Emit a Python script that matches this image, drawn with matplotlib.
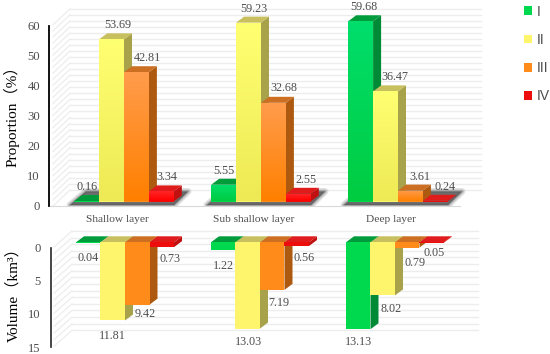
import numpy as np
import matplotlib
matplotlib.use('Agg')
import matplotlib.pyplot as plt
from matplotlib.colors import to_rgb
from matplotlib.patches import Patch, Polygon

plt.rcParams['font.family'] = ['Liberation Serif', 'Noto Sans CJK SC']

# data
layers = ['Shallow layer', 'Sub shallow layer', 'Deep layer']
classes = ['I', 'II', 'III', 'IV']
proportion = [[0.16, 5.55, 59.68],
              [53.69, 59.23, 36.47],
              [42.81, 32.68, 3.61],
              [3.34, 2.55, 0.24]]
volume = [[0.04, 1.22, 13.13],
          [11.81, 13.03, 8.02],
          [9.42, 7.19, 0.79],
          [0.73, 0.56, 0.05]]

# label shifts in pixels (right, away from the bar end), per class and layer
top_dx = [[0, 0, 3], [6, 5, 9], [11, 10, 9.5], [6, 8, 9.5]]
top_dy = [[14, 14, 14], [14, 14, 14], [14, 15, 14], [14, 14, 14]]
low_dx = [[0, 0, 0], [0, 1, 8], [8, 7, 8], [8, 7, 2.5]]
low_dy = [[15.5, 15.7, 13], [15.7, 13.7, 14], [9, 13.5, 15.7], [12, 11.7, 10.4]]

front_top = ['#00de6c', '#ffff72', '#ff9c4c', '#ff2a2a']
front_low = ['#00cc40', '#eeea55', '#ff8000', '#ff0000']
front_flat = ['#00d84e', '#fff56c', '#ff8c1a', '#ee0d0d']
lid = ['#009c3c', '#c8bf5e', '#cc6f22', '#e01b1b']
side = ['#008a35', '#a8a24a', '#ad5a10', '#c01010']

W, H = 550, 354
GREY = '#4d4d4d'
fig = plt.figure(figsize=(W / 100, H / 100), dpi=100)


def axes_px(left, top, right, bottom):
    return fig.add_axes([left / W, 1 - bottom / H, (right - left) / W, (bottom - top) / H])


def draw_bars(ax, values, dx_px, w_px, y_scale, sign, gradient):
    # x data is group number, so convert the fake 3D depth from pixels
    depth_x = 8 / dx_px
    depth_y = sign * 6 / y_scale
    w = w_px / dx_px
    for i, vals in enumerate(values):
        for g, v in enumerate(vals):
            x = g + (i - 1.5) * w
            xl, xr = x - w / 2, x + w / 2
            ax.add_patch(Polygon([(xr, 0), (xr + depth_x, depth_y), (xr + depth_x, v + depth_y), (xr, v)],
                                 fc=side[i], ec='none', zorder=5))
            top = [(xl, v), (xr, v), (xr + depth_x, v + depth_y), (xl + depth_x, v + depth_y)]
            if sign < 0:
                top = [(xl, 0), (xr, 0), (xr + depth_x, depth_y), (xl + depth_x, depth_y)]
            ax.add_patch(Polygon(top, fc=lid[i], ec='none', zorder=6))
            bar = ax.bar(x, v, w, color=front_flat[i], zorder=7)[0]
            if gradient:
                ramp = np.linspace(to_rgb(front_top[i]), to_rgb(front_low[i]), 64)[:, None, :]
                im = ax.imshow(ramp, extent=(xl, xr, 0, v), aspect='auto', zorder=7.5,
                               interpolation='bilinear')
                im.set_clip_path(bar)


# upper panel
BASE1, SCALE1, DX1, WB1 = 201.5, 3.02, 137, 24.9
ax1 = axes_px(0, 0, W, 206)
xlim1 = (-124 / DX1, (W - 124) / DX1)
ylim1 = ((BASE1 - 206) / SCALE1, BASE1 / SCALE1)

wall1 = 11.5 / SCALE1
for v in range(0, 61, 2):
    ax1.plot([(70 - 124) / DX1, (481 - 124) / DX1], [v + wall1, v + wall1], color='#ededed', lw=1, zorder=1)
    ax1.plot([(53 - 124) / DX1, (70 - 124) / DX1], [v + wall1 - 16 / SCALE1, v + wall1], color='#ededed', lw=0.9, zorder=1)

# soft shadow under each group
for g in range(3):
    xl = g - 50 / DX1
    xr = g + 50 / DX1
    pts = [(xl - 4 / DX1, -3.5 / SCALE1), (xr, -3.5 / SCALE1),
           (xr + 14 / DX1, 10 / SCALE1), (xl + 12 / DX1, 10 / SCALE1)]
    for lw, a in zip((5, 3, 1.5, 0), (0.16, 0.2, 0.3, 0.6)):
        ax1.add_patch(Polygon(pts, fc='#555555', ec='#555555', lw=lw, alpha=a, zorder=3, joinstyle='round'))

draw_bars(ax1, proportion, DX1, WB1, SCALE1, 1, True)
for i, vals in enumerate(proportion):
    for g, v in enumerate(vals):
        ax1.annotate(f'{v:.2f}', (g + (i - 1.5) * WB1 / DX1, v), xytext=(top_dx[i][g] * 0.72, top_dy[i][g] * 0.72),
                     textcoords='offset points', ha='center', va='center', fontsize=8.7, color=GREY, zorder=20)
ax1.set_xlim(xlim1)
ax1.set_ylim(ylim1)
ax1.patch.set_visible(False)
for s in ('top', 'left', 'right'):
    ax1.spines[s].set_visible(False)
ax1.spines['bottom'].set_color('#d9d9d9')
ax1.spines['bottom'].set_bounds((50 - 124) / DX1, (460 - 124) / DX1)
ax1.set_xticks(np.arange(3) - 7 / DX1)
ax1.set_xticklabels(layers, fontsize=8.2, color=GREY)
ax1.tick_params(axis='x', length=0, pad=6.5)
ax1.set_yticks([])

axis1 = axes_px(49, 26, 449, 206)
axis1.set_ylim(0, 60)
axis1.set_yticks(range(0, 61, 10))
axis1.tick_params(axis='y', length=0, pad=6.5, labelsize=9.1, labelcolor=GREY)
axis1.set_xticks([])
axis1.patch.set_visible(False)
for s in ('top', 'right', 'bottom'):
    axis1.spines[s].set_visible(False)
axis1.spines['left'].set_color('black')
axis1.spines['left'].set_linewidth(1.3)
axis1.set_ylabel('Proportion（%）', fontsize=11, color='black')
axis1.yaxis.set_label_coords(-29 / 400, 0.517)

# lower panel, hanging bars
BASE2, SCALE2, DX2, WB2 = 242.3, 6.62, 135, 24.5
ax2 = axes_px(0, 210, W, H)
xlim2 = (-125 / DX2, (W - 125) / DX2)
ylim2 = ((H - BASE2) / SCALE2, (210 - BASE2) / SCALE2)

wall2 = 11.3 / SCALE2
for v in range(0, 16):
    ax2.plot([(72 - 125) / DX2, (478 - 125) / DX2], [v - wall2, v - wall2], color='#ededed', lw=1, zorder=1)
    ax2.plot([(54 - 125) / DX2, (72 - 125) / DX2], [v - wall2 + 16 / SCALE2, v - wall2], color='#ededed', lw=0.9, zorder=1)

draw_bars(ax2, volume, DX2, WB2, SCALE2, -1, False)
for i, vals in enumerate(volume):
    for g, v in enumerate(vals):
        ax2.annotate(f'{v:.2f}', (g + (i - 1.5) * WB2 / DX2, v), xytext=(low_dx[i][g] * 0.72, -low_dy[i][g] * 0.72),
                     textcoords='offset points', ha='center', va='center', fontsize=8.7, color=GREY, zorder=20)
ax2.set_xlim(xlim2)
ax2.set_ylim(ylim2)
ax2.axis('off')

axis2 = axes_px(51, 247.5, 451, 347)
axis2.set_ylim(15, 0)
axis2.set_yticks([0, 5, 10, 15])
axis2.tick_params(axis='y', length=0, pad=7.5, labelsize=9.1, labelcolor=GREY)
axis2.set_xticks([])
axis2.patch.set_visible(False)
for s in ('top', 'right', 'bottom'):
    axis2.spines[s].set_visible(False)
axis2.spines['left'].set_color('#262626')
axis2.spines['left'].set_linewidth(1.2)
axis2.set_ylabel('Volume（km³）', fontsize=11, color='black')
axis2.yaxis.set_label_coords(-31 / 400, 0.565)

handles = [Patch(fc=c, ec='none') for c in front_flat]
fig.legend(handles, classes, loc='upper left', bbox_to_anchor=(521 / W, 1 - 2 / H), frameon=False,
           prop={'family': 'Liberation Sans', 'size': 10}, labelcolor=GREY, handlelength=0.6, handleheight=0.6,
           handletextpad=0.35, labelspacing=1.02, borderpad=0.2, borderaxespad=0)

fig.savefig('out.png', dpi=100)
